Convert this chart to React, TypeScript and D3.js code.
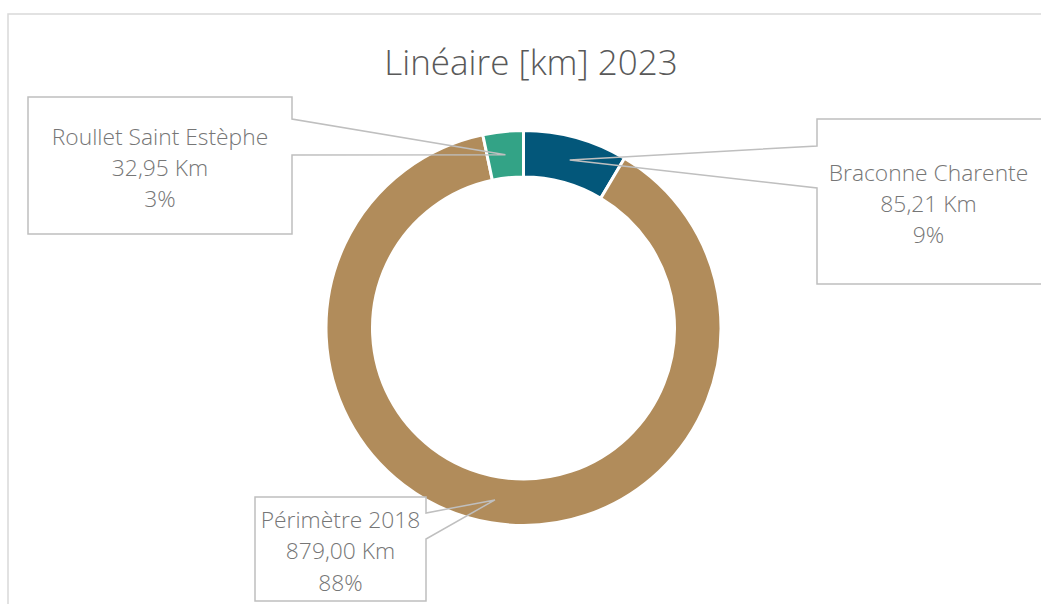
import React from "react";
import * as d3 from "d3";

// Chart data
const categories = ["Braconne Charente", "Périmètre 2018", "Roullet Saint Estèphe"];
const lengthsKm = [85.21, 879.0, 32.95];
const sliceColors = ["#03577a", "#b18c5b", "#33a386"];
const chartTitle = "Linéaire [km] 2023";

// Label boxes (layout only): box rect, side where the callout leaves, callout base y's
const labelBoxes = [
  { x: 817, y: 119, w: 226, h: 165, side: "left", a1: 146, a2: 188 },
  { x: 255, y: 497, w: 171, h: 104, side: "right", a1: 513, a2: 539 },
  { x: 28, y: 97, w: 264, h: 137, side: "right", a1: 119, a2: 155 },
];

const width = 1041;
const height = 604;
const cx = 523.5;
const cy = 328;
const outerR = 197.5;
const innerR = 151;

const fr = d3.formatLocale({
  decimal: ",",
  thousands: " ",
  grouping: [3],
  currency: ["", " €"],
});
const fmtKm = fr.format(",.2f");
const fmtPct = d3.format(".0%");

const FONT = "'Open Sans', 'DejaVu Sans', sans-serif";

export default function App() {
  const total = d3.sum(lengthsKm);
  const pie = d3
    .pie<number>()
    .sort(null)
    .value((d) => d)
    .startAngle(0)
    .endAngle(2 * Math.PI);
  const arcs = pie(lengthsKm);
  const arc = d3.arc<d3.PieArcDatum<number>>().innerRadius(innerR).outerRadius(outerR);

  return (
    <svg
      width={width}
      height={height}
      style={{ position: "absolute", left: 0, top: 0, background: "#fff" }}
    >
      {/* chart frame */}
      <rect x={8} y={14} width={width} height={height} fill="#fff" stroke="#d9d9d9" strokeWidth={1.5} />

      <text
        x={531}
        y={75}
        textAnchor="middle"
        fontFamily={FONT}
        fontWeight={300}
        fontSize={35}
        fill="#595959"
      >
        {chartTitle}
      </text>

      <g transform={`translate(${cx},${cy})`}>
        {arcs.map((a, i) => (
          <path key={i} d={arc(a) || ""} fill={sliceColors[i]} stroke="#fff" strokeWidth={3} />
        ))}
      </g>

      {arcs.map((a, i) => {
        const b = labelBoxes[i];
        const [px0, py0] = arc.centroid(a);
        const px = px0 + cx;
        const py = py0 + cy;
        const d =
          b.side === "right"
            ? `M${b.x},${b.y}H${b.x + b.w}V${b.a1}L${px},${py}L${b.x + b.w},${b.a2}V${b.y + b.h}H${b.x}Z`
            : `M${b.x},${b.y}H${b.x + b.w}V${b.y + b.h}H${b.x}V${b.a2}L${px},${py}L${b.x},${b.a1}Z`;
        const tx = b.x + b.w / 2 - (b.side === "left" ? 1.5 : 0);
        const ty = b.y + b.h / 2 - 21;
        const lines = [categories[i], `${fmtKm(lengthsKm[i])} Km`, fmtPct(lengthsKm[i] / total)];
        return (
          <g key={`lab${i}`}>
            <rect x={b.x} y={b.y} width={b.w} height={b.h} fill="#fff" />
            <path d={d} fill="none" stroke="#bfbfbf" strokeWidth={1.5} strokeLinejoin="miter" />
            {lines.map((t, j) => (
              <text
                key={j}
                x={tx}
                y={ty + j * 31.3}
                textAnchor="middle"
                fontFamily={FONT}
                fontWeight={300}
                fontSize={22.8}
                fill="#767676"
              >
                {t}
              </text>
            ))}
          </g>
        );
      })}
    </svg>
  );
}
